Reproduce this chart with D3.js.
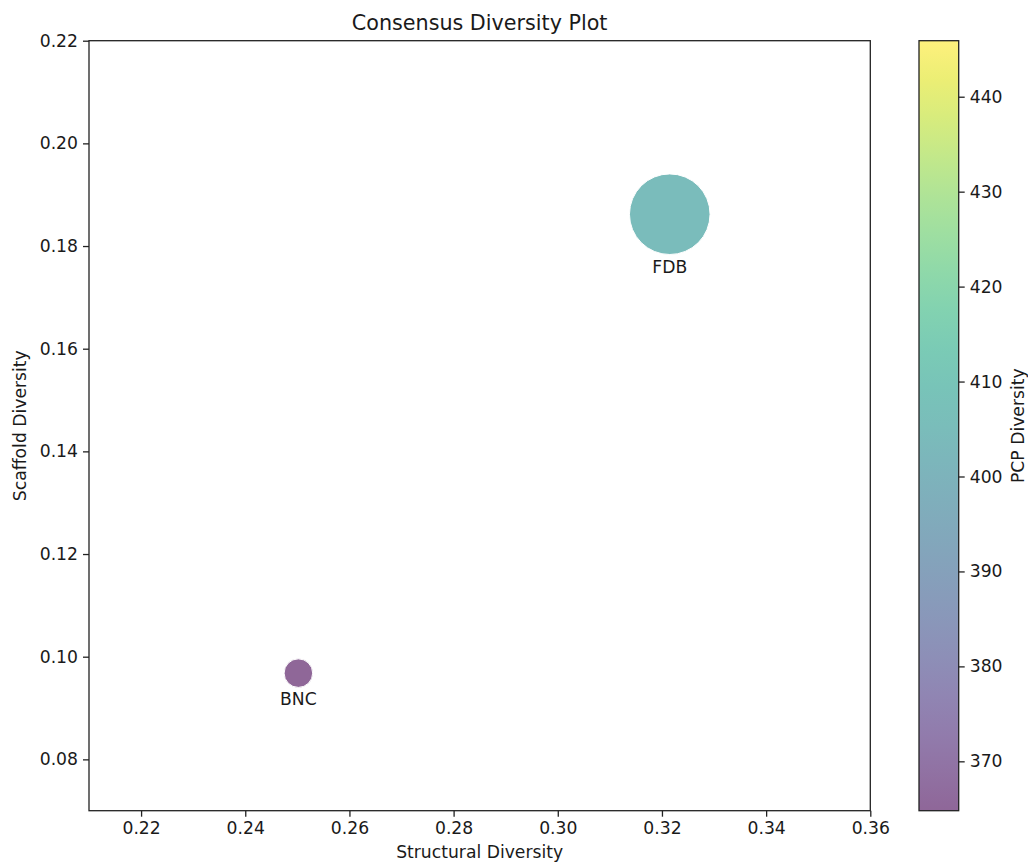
<!DOCTYPE html>
<html><head><meta charset="utf-8">
<script src="https://cdn.jsdelivr.net/npm/d3@7"></script>
<style>body{margin:0;background:#fff}svg{display:block;font-family:"DejaVu Sans",sans-serif}</style>
</head><body><svg id="c" width="1028" height="863"></svg>
<script>
// Data
const names = ["BNC", "FDB"];
const structuralDiversity = [0.2502, 0.3215];
const scaffoldDiversity = [0.0968, 0.1862];
const pcpDiversity = [364.8, 405.0];
const markerSizes = [222, 1765];
const xTicks = [0.22, 0.24, 0.26, 0.28, 0.30, 0.32, 0.34, 0.36];
const yTicks = [0.08, 0.10, 0.12, 0.14, 0.16, 0.18, 0.20, 0.22];
const cbTicks = [370, 380, 390, 400, 410, 420, 430, 440];
const cbRange = [364.8, 445.9];

const svg = d3.select("#c");
const L = 89, R = 870.3, T = 40.7, B = 810.7;
const x = d3.scaleLinear().domain([0.21, 0.36]).range([L, R]);
const y = d3.scaleLinear().domain([0.07, 0.22]).range([B, T]);
const rScale = d3.scaleSqrt().domain([0, 1765]).range([0, 40.3]);
const cScale = d3.scaleSequential(d3.interpolateViridis).domain(cbRange);
const txt = "#1a1a1a", fs = 17.2;

// points
const pts = names.map((n, i) => ({n, x: structuralDiversity[i], y: scaffoldDiversity[i], c: pcpDiversity[i], s: markerSizes[i]}));
const g = svg.append("g");
g.selectAll("circle").data(pts).join("circle")
  .attr("cx", d => x(d.x)).attr("cy", d => y(d.y)).attr("r", d => rScale(d.s))
  .attr("fill", d => cScale(d.c)).attr("fill-opacity", 0.6)
  .attr("stroke", "#fff").attr("stroke-width", 1);
g.selectAll("text").data(pts).join("text")
  .attr("x", d => x(d.x)).attr("y", d => y(d.y) + rScale(d.s) + 18)
  .attr("text-anchor", "middle").attr("font-size", fs).attr("fill", txt).text(d => d.n);

// axes
const fmt = d3.format(".2f");
const xa = svg.append("g").attr("transform", `translate(0,${B})`)
  .call(d3.axisBottom(x).tickValues(xTicks).tickFormat(fmt).tickSize(6).tickPadding(5));
const ya = svg.append("g").attr("transform", `translate(${L},0)`)
  .call(d3.axisLeft(y).tickValues(yTicks).tickFormat(fmt).tickSize(6).tickPadding(5));
[xa, ya].forEach(a => {
  a.select(".domain").remove();
  a.selectAll("line").attr("stroke", "#222").attr("stroke-width", 1.3);
  a.selectAll("text").attr("font-size", fs).attr("fill", txt).attr("font-family", "DejaVu Sans");
});
svg.append("rect").attr("x", L).attr("y", T).attr("width", R - L).attr("height", B - T)
  .attr("fill", "none").attr("stroke", "#222").attr("stroke-width", 1.3);

// labels
svg.append("text").attr("x", (L + R) / 2).attr("y", 30).attr("text-anchor", "middle")
  .attr("font-size", 20.7).attr("fill", txt).text("Consensus Diversity Plot");
svg.append("text").attr("x", (L + R) / 2).attr("y", 857.5).attr("text-anchor", "middle")
  .attr("font-size", fs).attr("fill", txt).text("Structural Diversity");
svg.append("text").attr("transform", `translate(26,${(T + B) / 2}) rotate(-90)`).attr("text-anchor", "middle")
  .attr("font-size", fs).attr("fill", txt).text("Scaffold Diversity");

// colorbar
const cbL = 919, cbR = 958.7;
const cy = d3.scaleLinear().domain(cbRange).range([B, T]);
const defs = svg.append("defs");
const grad = defs.append("linearGradient").attr("id", "vg").attr("x1", 0).attr("y1", 1).attr("x2", 0).attr("y2", 0);
d3.range(0, 1.0001, 0.05).forEach(t => grad.append("stop").attr("offset", t).attr("stop-color", d3.interpolateViridis(t)));
svg.append("rect").attr("x", cbL).attr("y", T).attr("width", cbR - cbL).attr("height", B - T)
  .attr("fill", "url(#vg)").attr("fill-opacity", 0.6);
svg.append("rect").attr("x", cbL).attr("y", T).attr("width", cbR - cbL).attr("height", B - T)
  .attr("fill", "none").attr("stroke", "#222").attr("stroke-width", 1.3);
const ca = svg.append("g").attr("transform", `translate(${cbR},0)`)
  .call(d3.axisRight(cy).tickValues(cbTicks).tickFormat(d3.format("d")).tickSize(6).tickPadding(5));
ca.select(".domain").remove();
ca.selectAll("line").attr("stroke", "#222").attr("stroke-width", 1.3);
ca.selectAll("text").attr("font-size", fs).attr("fill", txt).attr("font-family", "DejaVu Sans");
svg.append("text").attr("transform", `translate(1024,${(T + B) / 2}) rotate(-90)`).attr("text-anchor", "middle")
  .attr("font-size", fs).attr("fill", txt).text("PCP Diversity");
</script></body></html>
